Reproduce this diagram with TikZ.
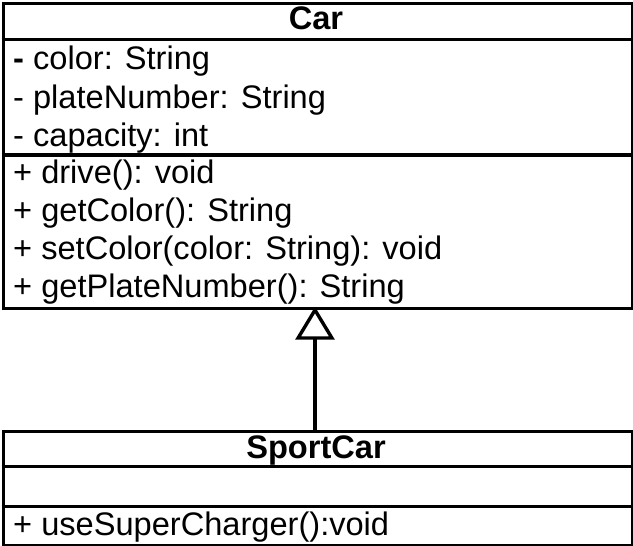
\documentclass[tikz,border=0pt]{standalone}
\usepackage{fontspec}
\setmainfont{Liberation Sans}
\usetikzlibrary{arrows.meta}
\begin{document}
\begin{tikzpicture}[x=1pt,y=-1pt,
  box/.style={draw=black,line width=3.4pt,inner sep=0pt,anchor=north west},
  sep/.style={line width=3.4pt},
  member/.style={anchor=base west,inner sep=0pt,font=\fontsize{32.6}{38}\selectfont},
  title/.style={anchor=base,inner sep=0pt,font=\fontsize{32.6}{38}\selectfont\bfseries},
  inherit/.style={line width=3.4pt,-{Triangle[open,width=39pt,length=33pt,line width=3.4pt]}}]
\useasboundingbox (0,0) rectangle (633,546);
% Car
\node[box,minimum width=629pt,minimum height=305pt] (car) at (1.7,1.7) {};
\draw[sep] (car.west |- 0,39.5) coordinate (c1) -- (car.east |- 0,39.5) coordinate (c2);
\draw[sep] (car.west |- 0,155) coordinate (c3) -- (car.east |- 0,155) coordinate (c4);
\node[title] (cartitle) at (316,30) {Car};
\node[member] (a1) at (13,70) {\textbf{-} color: String};
\node[member] (a2) at (13,108) {- plateNumber: String};
\node[member] (a3) at (13,146) {- capacity: int};
\node[member] (m1) at (13,183) {+ drive(): void};
\node[member] (m2) at (13,221) {+ getColor(): String};
\node[member] (m3) at (13,259) {+ setColor(color: String): void};
\node[member] (m4) at (13,297) {+ getPlateNumber(): String};
% SportCar
\node[box,minimum width=629pt,minimum height=114pt] (sport) at (1.7,429.5) {};
\draw[sep] (sport.west |- 0,466.5) coordinate (s1) -- (sport.east |- 0,466.5) coordinate (s2);
\draw[sep] (sport.west |- 0,506.5) coordinate (s3) -- (sport.east |- 0,506.5) coordinate (s4);
\node[title] (sporttitle) at (316,458) {SportCar};
\node[member] (sm1) at (13,535) {+ useSuperCharger():void};
% generalization
\coordinate (top) at (315,306.7);
\coordinate (bot) at (315,429.5);
\draw[inherit] (bot) -- (top);
\end{tikzpicture}
\end{document}
